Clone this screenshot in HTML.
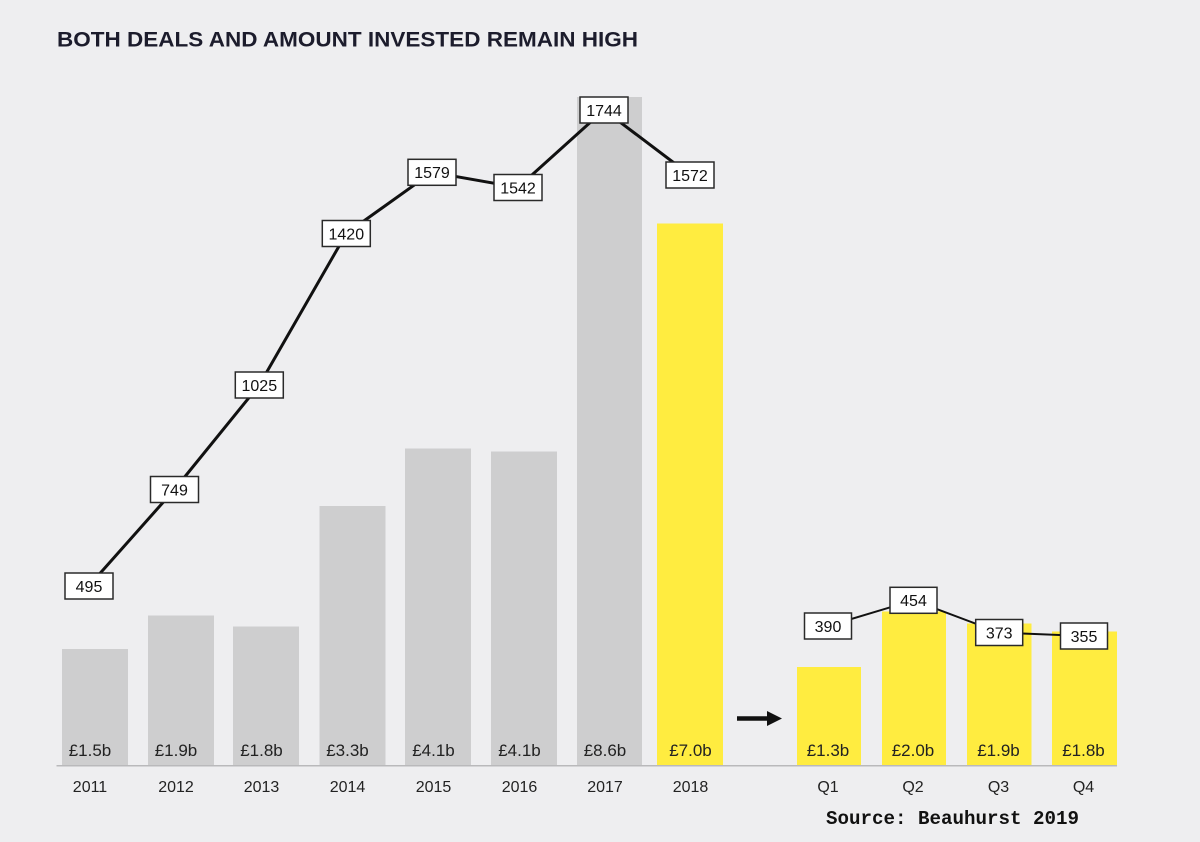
<!DOCTYPE html>
<html><head><meta charset="utf-8"><style>
html,body{margin:0;padding:0;background:#eeeef0;}
svg{display:block;}
</style></head><body>
<svg width="1200" height="842" viewBox="0 0 1200 842" xmlns="http://www.w3.org/2000/svg">
<rect width="1200" height="842" fill="#eeeef0"/>
<text x="57" y="46.5" font-family="Liberation Sans, sans-serif" font-weight="bold" font-size="21" fill="#1c1c2c" textLength="581" lengthAdjust="spacingAndGlyphs">BOTH DEALS AND AMOUNT INVESTED REMAIN HIGH</text>

<!-- bars -->
<g fill="#cececf">
<rect x="62" y="649" width="66" height="116.5"/>
<rect x="148" y="615.5" width="66" height="150"/>
<rect x="233" y="626.5" width="66" height="139"/>
<rect x="319.5" y="506" width="66" height="259.5"/>
<rect x="405" y="448.5" width="66" height="317"/>
<rect x="491" y="451.5" width="66" height="314"/>
<rect x="577" y="97" width="65" height="668.5"/>
</g>
<g fill="#ffec40">
<rect x="657" y="223.5" width="66" height="542"/>
<rect x="797" y="667" width="64" height="98.5"/>
<rect x="882" y="611.5" width="64" height="154"/>
<rect x="967" y="623.5" width="64.5" height="142"/>
<rect x="1052" y="631.5" width="65" height="134"/>
</g>

<line x1="56.5" y1="765.8" x2="1117" y2="765.8" stroke="#b9b9bb" stroke-width="1.5"/>

<!-- bar labels -->
<g font-family="Liberation Sans, sans-serif" font-size="17" fill="#222" text-anchor="middle">
<text x="90" y="756">£1.5b</text>
<text x="176" y="756">£1.9b</text>
<text x="261.5" y="756">£1.8b</text>
<text x="347.5" y="756">£3.3b</text>
<text x="433.5" y="756">£4.1b</text>
<text x="519.5" y="756">£4.1b</text>
<text x="605" y="756">£8.6b</text>
<text x="690.5" y="756">£7.0b</text>
<text x="828" y="756">£1.3b</text>
<text x="913" y="756">£2.0b</text>
<text x="998.5" y="756">£1.9b</text>
<text x="1083.5" y="756">£1.8b</text>
</g>

<!-- axis labels -->
<g font-family="Liberation Sans, sans-serif" font-size="16" fill="#222" text-anchor="middle">
<text x="90" y="792">2011</text>
<text x="176" y="792">2012</text>
<text x="261.5" y="792">2013</text>
<text x="347.5" y="792">2014</text>
<text x="433.5" y="792">2015</text>
<text x="519.5" y="792">2016</text>
<text x="605" y="792">2017</text>
<text x="690.5" y="792">2018</text>
<text x="828" y="792">Q1</text>
<text x="913" y="792">Q2</text>
<text x="998.5" y="792">Q3</text>
<text x="1083.5" y="792">Q4</text>
</g>

<!-- arrow -->
<line x1="737" y1="718.5" x2="770" y2="718.5" stroke="#111" stroke-width="4.5"/>
<polygon points="767,711 782,718.5 767,726" fill="#111"/>

<!-- annual line -->
<polyline points="88.8,586 174.5,489.5 259.3,385 346.3,233.5 432,172.3 518,187.5 604,110 690,175" fill="none" stroke="#111" stroke-width="3" stroke-linejoin="round"/>
<!-- quarterly line -->
<polyline points="828,626 913.5,600.3 999.2,632.5 1084,636" fill="none" stroke="#111" stroke-width="2" stroke-linejoin="round"/>

<!-- label boxes -->
<g fill="#ffffff" stroke="#2a2a2a" stroke-width="1.5">
<rect x="65" y="573" width="48" height="26"/>
<rect x="150.5" y="476.5" width="48" height="26"/>
<rect x="235.3" y="372" width="48" height="26"/>
<rect x="322.3" y="220.5" width="48" height="26"/>
<rect x="408" y="159.3" width="48" height="26"/>
<rect x="494" y="174.5" width="48" height="26"/>
<rect x="580" y="97" width="48" height="26"/>
<rect x="666" y="162" width="48" height="26"/>
<rect x="804.5" y="613" width="47" height="26"/>
<rect x="890" y="587.3" width="47" height="26"/>
<rect x="975.7" y="619.5" width="47" height="26"/>
<rect x="1060.5" y="623" width="47" height="26"/>
</g>
<g font-family="Liberation Sans, sans-serif" font-size="16" fill="#111" text-anchor="middle">
<text x="89" y="591.8">495</text>
<text x="174.5" y="495.3">749</text>
<text x="259.3" y="390.8">1025</text>
<text x="346.3" y="239.3">1420</text>
<text x="432" y="178.1">1579</text>
<text x="518" y="193.3">1542</text>
<text x="604" y="115.8">1744</text>
<text x="690" y="180.8">1572</text>
<text x="828" y="631.8">390</text>
<text x="913.5" y="606.1">454</text>
<text x="999.2" y="638.3">373</text>
<text x="1084" y="641.8">355</text>
</g>

<text x="826" y="824" font-family="Liberation Mono, monospace" font-weight="bold" font-size="19" fill="#111" textLength="253" lengthAdjust="spacingAndGlyphs">Source: Beauhurst 2019</text>
</svg>
</body></html>
